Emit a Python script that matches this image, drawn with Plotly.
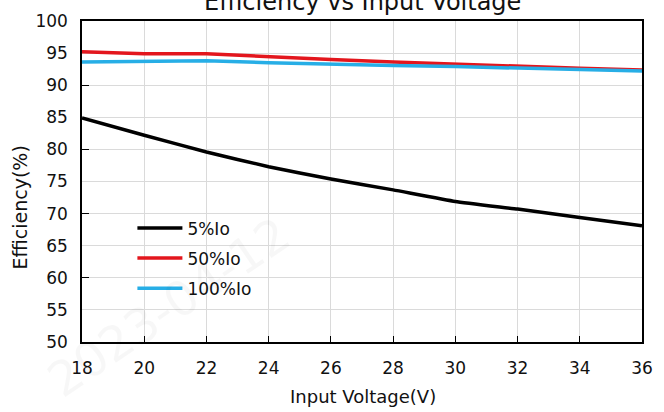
import plotly.graph_objects as go

voltage = [18, 20, 22, 24, 26, 28, 30, 32, 34, 36]
eff_5 = [84.9, 82.2, 79.6, 77.3, 75.4, 73.7, 71.9, 70.7, 69.4, 68.1]
eff_50 = [95.2, 94.9, 94.9, 94.4, 94.0, 93.6, 93.25, 92.95, 92.65, 92.35]
eff_100 = [93.6, 93.7, 93.8, 93.5, 93.25, 93.05, 92.9, 92.7, 92.5, 92.2]
names = ["5%Io", "50%Io", "100%Io"]
colors = ["#000000", "#e3161d", "#27aee6"]
shapes_ = ["spline", "linear", "linear"]
xticks = [18, 20, 22, 24, 26, 28, 30, 32, 34, 36]

FONT = "DejaVu Sans"

fig = go.Figure()
for i, (ys, nm, c, sh) in enumerate(zip([eff_5, eff_50, eff_100], names, colors, shapes_)):
    fig.add_trace(go.Scatter(x=voltage, y=ys, mode="lines", name=nm,
                             legendgroup=f"g{i}",
                             line=dict(color=c, width=3.5, shape=sh, smoothing=0.4)))

# invisible trace on secondary axis for major tick marks every 10
fig.add_trace(go.Scatter(x=[18], y=[50], yaxis="y2", showlegend=False,
                         mode="markers", marker=dict(opacity=0), hoverinfo="skip"))

fig.update_layout(
    width=664, height=412,
    margin=dict(l=82, r=11, t=17, b=70),
    paper_bgcolor="white", plot_bgcolor="white",
    font=dict(family=FONT, color="#111111"),
    showlegend=True,
    legend=dict(x=0.09, y=0.41, xanchor="left", yanchor="top",
                bgcolor="rgba(0,0,0,0)", font=dict(size=17, family=FONT),
                tracegroupgap=5, itemwidth=45),
    xaxis=dict(range=[18, 36], tickvals=xticks, ticks="inside", ticklen=6,
               tickcolor="#000", showgrid=True, gridcolor="#dadada", gridwidth=1,
               showline=True, linecolor="#000", linewidth=1.5, mirror=True,
               tickfont=dict(size=17, family=FONT), zeroline=False, ticklabelstandoff=10),
    yaxis=dict(range=[50, 100], dtick=5, ticks="", showgrid=True, gridcolor="#dadada",
               gridwidth=1, showline=True, linecolor="#000", linewidth=1.5, mirror=True,
               tickfont=dict(size=17, family=FONT), zeroline=False, ticklabelstandoff=9),
    yaxis2=dict(range=[50, 100], dtick=10, ticks="inside", ticklen=7, tickcolor="#000",
                overlaying="y", side="left", showticklabels=False, showgrid=False,
                zeroline=False, showline=False),
    annotations=[
        dict(text="2023-04-12", xref="paper", yref="paper", x=0.154, y=0.11,
             xanchor="center", yanchor="middle", showarrow=False, textangle=-34,
             font=dict(size=48, family=FONT, color="rgba(0,0,0,0.03)")),
        dict(text="Efficiency vs Input Voltage", xref="paper", yref="paper",
             x=0.5, y=1.0, yshift=3, yanchor="bottom", xanchor="center", showarrow=False,
             font=dict(size=24, family=FONT, color="#111111")),
        dict(text="Input Voltage(V)", xref="paper", yref="paper",
             x=0.501, y=-0.169, xanchor="center", yanchor="middle", showarrow=False,
             font=dict(size=18, family=FONT, color="#111111")),
        dict(text="Efficiency(%)", xref="paper", yref="paper",
             x=-0.11, y=0.42, xanchor="center", yanchor="middle", showarrow=False,
             textangle=-90, font=dict(size=19, family=FONT, color="#111111")),
    ],
)

fig.write_html("out.html")
